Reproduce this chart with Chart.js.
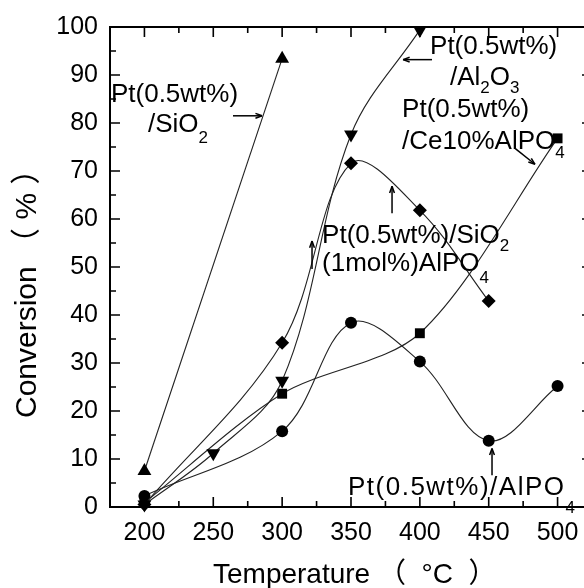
<!DOCTYPE html>
<html><head><meta charset="utf-8">
<script src="https://cdn.jsdelivr.net/npm/chart.js@4"></script>
<style>
html,body{margin:0;padding:0;background:#fff;overflow:hidden}
#wrap{width:584px;height:588px;overflow:hidden;position:relative;background:#fff}
canvas{display:block}
</style></head><body>
<div id="wrap"><canvas id="c" width="600" height="588"></canvas></div>
<script>
// ---- data ----
const xSiO2 = [200, 300];
const ySiO2 = [7.5, 93.4];
const xAl2O3 = [200, 250, 300, 350, 400];
const yAl2O3 = [0.5, 11.2, 26.3, 77.6, 99.4];
const xSiAlPO4 = [200, 300, 350, 400, 450];
const ySiAlPO4 = [0.5, 34.2, 71.6, 61.8, 42.9];
const xCeAlPO4 = [200, 300, 400, 500];
const yCeAlPO4 = [0.9, 23.6, 36.2, 76.8];
const xAlPO4 = [200, 300, 350, 400, 450, 500];
const yAlPO4 = [2.3, 15.8, 38.4, 30.3, 13.8, 25.2];

const xTickLabels = [200, 250, 300, 350, 400, 450, 500];
const xMinorTicks = [225, 275, 325, 375, 425, 475];
const yTickLabels = [0, 10, 20, 30, 40, 50, 60, 70, 80, 90, 100];
const yMinorTicks = [5, 15, 25, 35, 45, 55, 65, 75, 85, 95];

const xTitle = 'Temperature （  °C  ）';
const yTitle = 'Conversion （ % ）';

// annotation texts: segments [text, isSubscript]
const labels = [
  { parts: [['Pt(0.5wt%)', 0]], at: [175.7, 85.9] },
  { parts: [['/SiO', 0], ['2', 1]], at: [202.6, 79.6], sub: 13 },
  { parts: [['Pt(0.5wt%)', 0]], at: [407.4, 95.9] },
  { parts: [['/Al', 0], ['2', 1], ['O', 0], ['3', 1]], at: [421.9, 89.4], sub: 10 },
  { parts: [['Pt(0.5wt%)', 0]], at: [387.1, 82.8] },
  { parts: [['/Ce10%AlPO', 0], ['4', 1]], at: [387.1, 76.1], sub: 12 },
  { parts: [['Pt(0.5wt%)/SiO', 0], ['2', 1]], at: [329, 56.4], sub: 10 },
  { parts: [['(1mol%)AlPO', 0], ['4', 1]], at: [329, 50.6], sub: 14 },
  { parts: [['Pt(0.5wt%)/AlPO', 0], ['4', 1]], at: [347.8, 3.9], sub: 20, spacing: 1.5 }
];
const arrows = [
  [[264.3, 81.5], [285.4, 81.5]],
  [[408.8, 93.2], [387.8, 93.2]],
  [[469.1, 74.7], [483.6, 71.4]],
  [[379.8, 61.2], [379.8, 66.8]],
  [[321.7, 49.6], [321.7, 55.4]],
  [[452.4, 6.6], [452.4, 12.2]]
];

const FONT = "'Liberation Sans', 'Noto Sans CJK JP', sans-serif";

function ds(label, xs, ys, style, rot, r, tension) {
  return {
    label, data: xs.map((x, i) => ({ x, y: ys[i] })),
    showLine: true, borderColor: '#222', borderWidth: 1.1,
    backgroundColor: '#000', pointBackgroundColor: '#000', pointBorderColor: '#000',
    pointBorderWidth: 0, pointStyle: style, pointRotation: rot, pointRadius: r,
    pointHoverRadius: r, tension, clip: false, fill: false
  };
}

const decor = {
  id: 'decor',
  beforeDatasetsDraw(chart) {
    const { ctx, chartArea: a, scales: { x, y } } = chart;
    ctx.save();
    ctx.strokeStyle = '#000';
    ctx.lineWidth = 2;
    ctx.strokeRect(a.left, a.top, a.right - a.left, a.bottom - a.top);
    ctx.lineWidth = 1.6;
    ctx.beginPath();
    const tx = (v, len) => { const p = x.getPixelForValue(v);
      ctx.moveTo(p, a.bottom); ctx.lineTo(p, a.bottom - len);
      ctx.moveTo(p, a.top); ctx.lineTo(p, a.top + len); };
    const ty = (v, len) => { const p = y.getPixelForValue(v);
      ctx.moveTo(a.left, p); ctx.lineTo(a.left + len, p);
      ctx.moveTo(a.right, p); ctx.lineTo(a.right - len, p); };
    xTickLabels.forEach(v => tx(v, 10));
    xMinorTicks.forEach(v => tx(v, 6));
    yTickLabels.forEach(v => ty(v, 10));
    yMinorTicks.forEach(v => ty(v, 6));
    ctx.stroke();
    ctx.restore();
  },
  afterDraw(chart) {
    const { ctx, scales: { x, y } } = chart;
    ctx.save();
    ctx.fillStyle = '#000';
    ctx.strokeStyle = '#000';
    // annotation labels
    labels.forEach(l => {
      let cx = x.getPixelForValue(l.at[0]);
      const cy = y.getPixelForValue(l.at[1]);
      ctx.textBaseline = 'middle';
      ctx.textAlign = 'left';
      try { ctx.letterSpacing = (l.spacing || 0) + 'px'; } catch (e) {}
      l.parts.forEach(([t, sub]) => {
        ctx.font = (sub ? 17 : 26) + 'px ' + FONT;
        ctx.fillText(t, cx, sub ? cy + l.sub : cy);
        cx += ctx.measureText(t).width;
      });
    });
    try { ctx.letterSpacing = '0px'; } catch (e) {}
    // arrows
    ctx.lineWidth = 1.5;
    arrows.forEach(([p0, p1]) => {
      const x0 = x.getPixelForValue(p0[0]), y0 = y.getPixelForValue(p0[1]);
      const x1 = x.getPixelForValue(p1[0]), y1 = y.getPixelForValue(p1[1]);
      const ang = Math.atan2(y1 - y0, x1 - x0);
      ctx.beginPath(); ctx.moveTo(x0, y0); ctx.lineTo(x1, y1); ctx.stroke();
      ctx.beginPath();
      ctx.moveTo(x1, y1);
      ctx.lineTo(x1 - 7 * Math.cos(ang - 0.35), y1 - 7 * Math.sin(ang - 0.35));
      ctx.moveTo(x1, y1);
      ctx.lineTo(x1 - 7 * Math.cos(ang + 0.35), y1 - 7 * Math.sin(ang + 0.35));
      ctx.stroke();
    });
    // axis titles
    ctx.textBaseline = 'alphabetic';
    ctx.textAlign = 'left';
    ctx.font = '28px ' + FONT;
    ctx.fillText(xTitle, 213, 583);
    ctx.save();
    ctx.translate(36, 418);
    ctx.rotate(-Math.PI / 2);
    ctx.font = '30px ' + FONT;
    ctx.fillText(yTitle, 0, 0);
    ctx.restore();
    ctx.restore();
  }
};

new Chart(document.getElementById('c'), {
  type: 'scatter',
  data: {
    datasets: [
      ds('Pt(0.5wt%)/SiO2', xSiO2, ySiO2, 'triangle', 0, 8, 0),
      ds('Pt(0.5wt%)/Al2O3', xAl2O3, yAl2O3, 'triangle', 180, 8, 0.35),
      ds('Pt(0.5wt%)/SiO2(1mol%)AlPO4', xSiAlPO4, ySiAlPO4, 'rectRot', 0, 7, 0.35),
      ds('Pt(0.5wt%)/Ce10%AlPO4', xCeAlPO4, yCeAlPO4, 'rect', 0, 7, 0.3),
      ds('Pt(0.5wt%)/AlPO4', xAlPO4, yAlPO4, 'circle', 0, 6, 0.35)
    ]
  },
  options: {
    responsive: false,
    devicePixelRatio: 1,
    animation: false,
    events: [],
    layout: { padding: { top: 25, right: 8, left: 0, bottom: 0 } },
    plugins: { legend: { display: false }, tooltip: { enabled: false }, title: { display: false } },
    scales: {
      x: {
        type: 'linear', min: 175, max: 525,
        afterBuildTicks: s => { s.ticks = xTickLabels.map(v => ({ value: v })); },
        afterFit: s => { s.height = 81; },
        grid: { display: false, drawTicks: false },
        border: { display: false },
        ticks: { color: '#000', font: { family: FONT, size: 25 }, padding: 11, maxRotation: 0, autoSkip: false },
        title: { display: false }
      },
      y: {
        type: 'linear', min: 0, max: 100,
        afterBuildTicks: s => { s.ticks = yTickLabels.map(v => ({ value: v })); },
        afterFit: s => { s.width = 110; },
        grid: { display: false, drawTicks: false },
        border: { display: false },
        ticks: { color: '#000', font: { family: FONT, size: 25 }, padding: 12, autoSkip: false },
        title: { display: false }
      }
    }
  },
  plugins: [decor]
});
</script>
</body></html>
